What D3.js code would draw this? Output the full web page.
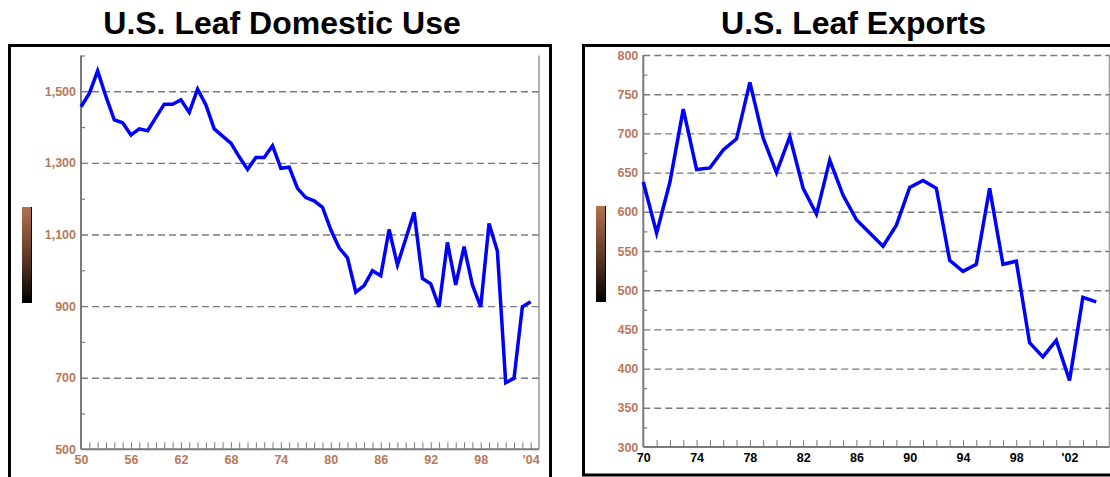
<!DOCTYPE html>
<html>
<head>
<meta charset="utf-8">
<script src="https://cdn.jsdelivr.net/npm/d3@7"></script>
<style>
  body { margin: 0; background: #fff; }
  svg { display: block; font-family: "Liberation Sans", Arial, sans-serif; }
</style>
</head>
<body>
<svg id="chart" width="1110" height="477"></svg>
<script>
// U.S. leaf domestic use, 1950-2004
var domesticYears = d3.range(1950, 2005);
var domesticUse = [1457, 1494, 1557, 1485, 1420, 1412, 1378, 1395, 1390, 1427,
    1464, 1464, 1476, 1441, 1506, 1462, 1395, 1375, 1355, 1317,
    1282, 1315, 1315, 1348, 1285, 1288, 1229, 1203, 1194, 1176,
    1113, 1063, 1035, 939, 957, 999, 985, 1114, 1015, 1088,
    1162, 977, 962, 898, 1078, 959, 1066, 959, 898, 1131,
    1054, 686, 698, 898, 912];
var domesticYTicks = [500, 700, 900, 1100, 1300, 1500];
var domesticXTicks = [1950, 1956, 1962, 1968, 1974, 1980, 1986, 1992, 1998, 2004];

// U.S. leaf exports, 1970-2004
var exportYears = d3.range(1970, 2005);
var exportsVal = [638, 573, 638, 731, 654, 656, 679, 693, 765, 694,
    650, 696, 630, 597, 666, 621, 590, 573, 556, 583,
    631, 640, 630, 538, 524, 533, 630, 533, 537, 433,
    415, 436, 385, 491, 485];
var exportYTicks = [300, 350, 400, 450, 500, 550, 600, 650, 700, 750, 800];
var exportXTicks = [1970, 1974, 1978, 1982, 1986, 1990, 1994, 1998, 2002];

var svg = d3.select("#chart");
var brown = "#b8785a";
var gray = "#7a7a7a";

function yearLabel(y) {
    return y >= 2000 ? "'" + d3.format("02")(y - 2000) : String(y - 1900);
}

var defs = svg.append("defs");
var grad = defs.append("linearGradient").attr("id", "bar").attr("x1", 0).attr("x2", 0).attr("y1", 0).attr("y2", 1);
grad.append("stop").attr("offset", "0%").attr("stop-color", "#b3734f");
grad.append("stop").attr("offset", "55%").attr("stop-color", "#5a3524");
grad.append("stop").attr("offset", "100%").attr("stop-color", "#000");

function makePanel(opt) {
    var g = svg.append("g");

    g.append("text")
        .attr("x", opt.titleX).attr("y", 34)
        .attr("text-anchor", "middle")
        .attr("font-size", "32px").attr("font-weight", "bold")
        .text(opt.title);

    g.append("rect")
        .attr("x", opt.box[0]).attr("y", opt.box[1])
        .attr("width", opt.box[2]).attr("height", opt.box[3])
        .attr("fill", "none").attr("stroke", "#000").attr("stroke-width", 3);

    g.append("rect")
        .attr("x", opt.barX).attr("y", opt.barY)
        .attr("width", 9).attr("height", 96)
        .attr("fill", "url(#bar)");
    g.append("line")
        .attr("x1", opt.barX + 9.5).attr("x2", opt.barX + 9.5)
        .attr("y1", opt.barY).attr("y2", opt.barY + 96)
        .attr("stroke", "#000").attr("stroke-width", 1);

    var x = d3.scaleLinear().domain(opt.xDomain).range([opt.left, opt.right]);
    var y = d3.scaleLinear().domain(opt.yDomain).range([opt.bottom, opt.top]);
    var w = opt.right - opt.left;

    // dashed gridlines
    var grid = g.append("g")
        .attr("transform", "translate(" + opt.left + ",0)")
        .call(d3.axisRight(y).tickValues(opt.gridVals).tickSize(w).tickFormat(""));
    grid.select(".domain").remove();
    grid.selectAll("line").attr("stroke", gray).attr("stroke-width", 1.4).attr("stroke-dasharray", "7,4");

    // minor y ticks
    var ym = g.append("g")
        .attr("transform", "translate(" + opt.left + ",0)")
        .call(d3.axisRight(y).tickValues(opt.yMinor).tickSize(4).tickFormat(""));
    ym.select(".domain").remove();
    ym.selectAll("line").attr("stroke", gray).attr("stroke-width", 1.2);

    // minor x ticks, one per year
    var xm = g.append("g")
        .attr("transform", "translate(0," + opt.bottom + ")")
        .call(d3.axisTop(x).tickValues(d3.range(opt.xDomain[0] + 1, opt.xDomain[1])).tickSize(7).tickFormat(""));
    xm.select(".domain").remove();
    xm.selectAll("line").attr("stroke", gray).attr("stroke-width", 1);

    // y axis labels
    var ya = g.append("g")
        .attr("transform", "translate(" + opt.left + ",0)")
        .call(d3.axisLeft(y).tickValues(opt.yTicks).tickSize(0).tickPadding(5).tickFormat(d3.format(",")));
    ya.select(".domain").remove();
    ya.selectAll("text").attr("fill", brown).attr("font-size", "12.5px").attr("font-weight", "bold")
        .attr("font-family", "Liberation Sans, Arial, sans-serif");

    // x axis labels
    var xa = g.append("g")
        .attr("transform", "translate(0," + opt.bottom + ")")
        .call(d3.axisBottom(x).tickValues(opt.xTicks).tickSize(0).tickPadding(6).tickFormat(yearLabel));
    xa.select(".domain").remove();
    xa.selectAll("text").attr("fill", opt.xColor).attr("font-size", "12.5px").attr("font-weight", "bold")
        .attr("font-family", "Liberation Sans, Arial, sans-serif");

    // axis frame lines
    g.append("line").attr("x1", opt.left).attr("x2", opt.left)
        .attr("y1", opt.top).attr("y2", opt.bottom)
        .attr("stroke", gray).attr("stroke-width", 2);
    g.append("line").attr("x1", opt.right).attr("x2", opt.right)
        .attr("y1", opt.top).attr("y2", opt.bottom)
        .attr("stroke", "#999").attr("stroke-width", 1.5);
    g.append("line").attr("x1", opt.left).attr("x2", opt.right)
        .attr("y1", opt.bottom).attr("y2", opt.bottom)
        .attr("stroke", gray).attr("stroke-width", 2);

    var line = d3.line()
        .x(function(d, i) { return x(opt.years[i]); })
        .y(function(d) { return y(d); });

    g.append("path")
        .datum(opt.values)
        .attr("fill", "none")
        .attr("stroke", "#0000ff")
        .attr("stroke-width", 3.5)
        .attr("stroke-linejoin", "miter")
        .attr("d", line);
}

makePanel({
    title: "U.S. Leaf Domestic Use", titleX: 282,
    box: [9.5, 45.5, 541, 440],
    barX: 22, barY: 207,
    left: 81, right: 539, top: 55.5, bottom: 449.3,
    xDomain: [1950, 2005], yDomain: [500, 1600],
    years: domesticYears, values: domesticUse,
    yTicks: domesticYTicks, xTicks: domesticXTicks,
    gridVals: [700, 900, 1100, 1300, 1500],
    yMinor: [600, 800, 1000, 1200, 1400, 1600],
    xColor: brown
});

makePanel({
    title: "U.S. Leaf Exports", titleX: 853.5,
    box: [583.5, 45.5, 540, 429.5],
    barX: 596, barY: 206,
    left: 643.3, right: 1109.5, top: 55, bottom: 447,
    xDomain: [1970, 2005], yDomain: [300, 800],
    years: exportYears, values: exportsVal,
    yTicks: exportYTicks, xTicks: exportXTicks,
    gridVals: [350, 400, 450, 500, 550, 600, 650, 700, 750, 800],
    yMinor: [325, 375, 425, 475, 525, 575, 625, 675, 725, 775],
    xColor: "#000"
});
</script>
</body>
</html>
